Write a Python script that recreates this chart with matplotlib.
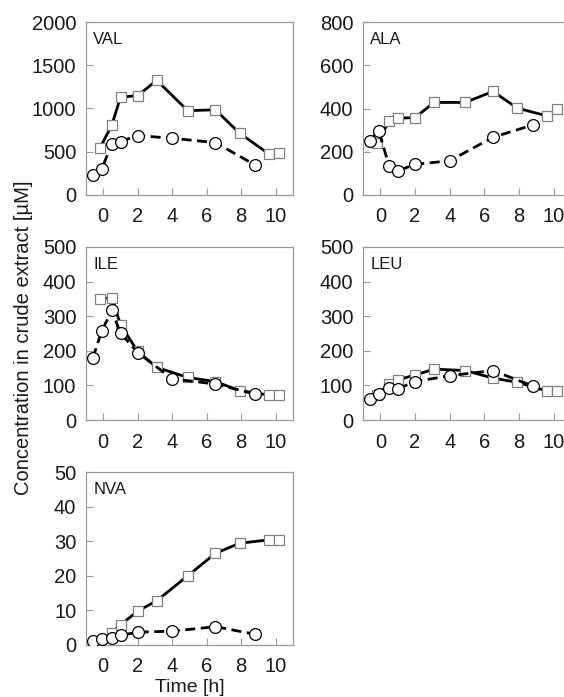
import numpy as np
import matplotlib
matplotlib.use('Agg')
import matplotlib.pyplot as plt

plt.rcParams['font.family'] = ['Liberation Sans', 'DejaVu Sans']

# sampling times [h]
sq_t = [-0.2, 0.5, 1.0, 2.0, 3.1, 4.9, 6.5, 7.9, 9.6, 10.2]
ci_t = [-0.6, -0.1, 0.5, 1.0, 2.0, 4.0, 6.5, 8.8]

names = ['VAL', 'ALA', 'ILE', 'LEU', 'NVA']

val_sq = [540, 810, 1130, 1150, 1325, 975, 985, 715, 475, 483]
val_ci = [232, 297, 590, 618, 687, 656, 606, 347]
ala_sq = [240, 340, 355, 358, 428, 428, 479, 402, 366, 397]
ala_ci = [252, 298, 136, 111, 142, 158, 267, 324]
ile_sq = [350, 354, 275, 198, 152, 123, 111, 85, 72, 72]
ile_ci = [180, 256, 317, 251, 195, 119, 104, 75]
leu_sq = [72, 103, 116, 130, 147, 143, 121, 109, 84, 84]
leu_ci = [61, 76, 92, 90, 111, 128, 143, 98]
nva_sq = [0.5, 3.6, 5.8, 9.8, 12.8, 20.0, 26.5, 29.4, 30.4, 30.4]
nva_ci = [1.2, 1.7, 2.1, 2.8, 3.7, 4.0, 5.3, 3.1]

squares = [val_sq, ala_sq, ile_sq, leu_sq, nva_sq]
circles = [val_ci, ala_ci, ile_ci, leu_ci, nva_ci]
ymax = [2000, 800, 500, 500, 50]
ystep = [500, 200, 100, 100, 10]

W, H = 564, 697
fig = plt.figure(figsize=(W / 100, H / 100), dpi=100)

# axes boxes in pixels: left, top, right, bottom
cols = [(86, 293), (363, 571)]
rows = [(22, 195), (247, 420), (472, 645)]

spine_col = '#9a9a9a'
txt_col = '#1a1a1a'
for i, name in enumerate(names):
    c0, c1 = cols[i % 2]
    r0, r1 = rows[i // 2]
    ax = fig.add_axes([c0 / W, 1 - r1 / H, (c1 - c0) / W, (r1 - r0) / H])

    ax.plot(sq_t, squares[i], '-', color='black', lw=2.0, marker='s', ms=7.5,
            mfc='white', mec='#808080', mew=0.9, zorder=2)
    ax.plot(ci_t, circles[i], '--', color='black', lw=2.0, dashes=(3.6, 2.0),
            marker='o', ms=8.5, mfc='white', mec='black', mew=0.9, zorder=3)

    ax.set_xlim(-1, 11)
    ax.set_ylim(0, ymax[i])
    ax.set_xticks(np.arange(0, 11, 2))
    ax.set_yticks(np.arange(0, ymax[i] + 1, ystep[i]))
    ax.tick_params(direction='in', length=5, width=0.8, color=spine_col,
                   labelsize=14.5, labelcolor=txt_col)
    ax.tick_params(axis='y', pad=7)
    ax.tick_params(axis='x', pad=9)
    for s in ax.spines.values():
        s.set_color(spine_col)
        s.set_linewidth(0.9)
    ax.text(0.035, 0.94, name, transform=ax.transAxes, fontsize=12,
            va='top', ha='left', color=txt_col)

fig.text(24 / W, 1 - 338 / H, 'Concentration in crude extract [µM]',
         rotation=90, ha='center', va='center', fontsize=14.5, color=txt_col)
fig.text(190 / W, 1 - 688 / H, 'Time [h]', ha='center', va='center',
         fontsize=14, color=txt_col)

fig.savefig('out.png', dpi=100, facecolor='white')
